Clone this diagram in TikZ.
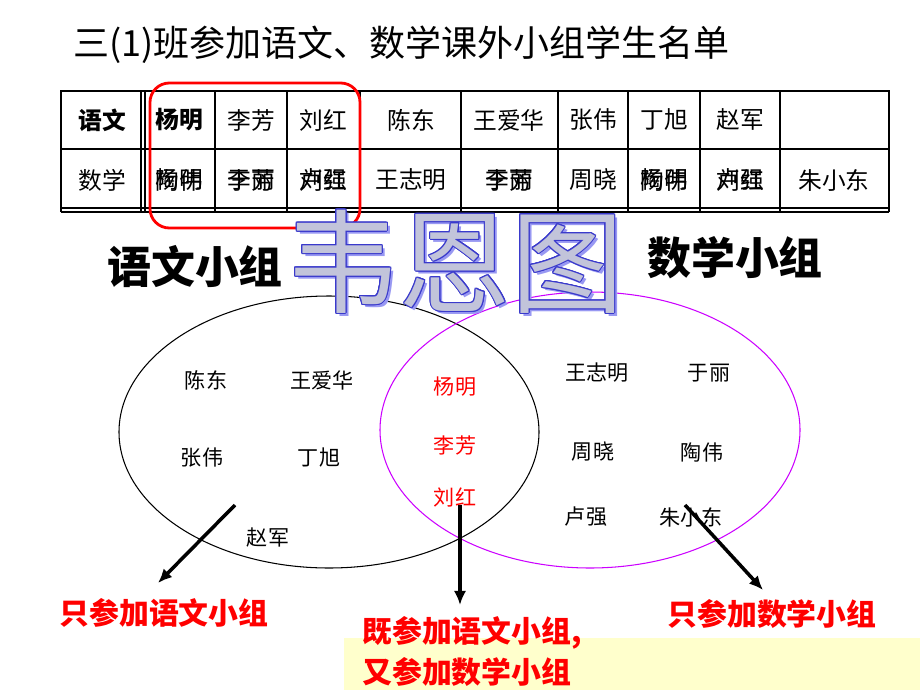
\documentclass[tikz,border=0pt]{standalone}
\usepackage{fontspec}
\setmainfont{Noto Sans CJK SC}
\usepackage{xcolor}
\usepackage{contour}
\usepackage{tikz}
\usetikzlibrary{arrows.meta, positioning}
\definecolor{markred}{HTML}{FF0000}
\definecolor{mathviolet}{HTML}{CC00FF}
\definecolor{notepaper}{HTML}{FFFFCC}
\definecolor{vennfill}{HTML}{C2C4DA}
\definecolor{vennline}{HTML}{3A3ACC}
\definecolor{vennshadow}{HTML}{9898F2}
\contourlength{0.5pt}

\begin{document}
\begin{tikzpicture}[x=0.02cm, y=-0.02cm,
        every node/.style={inner sep=0pt},
        cell/.style={font=\fontsize{13.5}{16}\selectfont},
        headcell/.style={font=\bfseries\fontsize{13.5}{16}\selectfont},
        member/.style={font=\fontsize{12}{14}\selectfont},
        groupname/.style={font=\bfseries\fontsize{25}{30}\selectfont},
        remark/.style={text=markred, font=\bfseries\fontsize{17}{20}\selectfont},
        pointer/.style={line width=2pt, -{Latex[length=8pt, width=7pt]}}]
        \fill[white] (0,0) rectangle (920,690);
        \useasboundingbox (0,0) rectangle (920,690);
        \fill[notepaper] (344,638) rectangle (920,690);

        \node[font=\fontsize{20.5}{24}\selectfont, anchor=west] (title) at (73,45) {三(1)班参加语文、数学课外小组学生名单};

        \draw[line width=1.6pt] (61,212) -- (61,91) -- (889,91) -- (889,212);
        \draw[line width=1.6pt] (61,212) -- (889,212);
        \draw[line width=0.6pt] (61,208) -- (889,208) (61,149) -- (889,149);
        \draw[line width=0.6pt] (141,91) -- (141,212) (145,91) -- (145,212)
                (215,91) -- (215,212) (287,91) -- (287,212) (360,91) -- (360,212)
                (461,91) -- (461,212) (558,91) -- (558,212) (628,91) -- (628,212)
                (700,91) -- (700,212) (780,91) -- (780,212);

        \node[headcell] (0) at (102,120) {语文};
        \node[headcell] (1) at (179,120) {杨明};
        \node[cell] (2) at (251,120) {李芳};
        \node[cell] (3) at (323,120) {刘红};
        \node[cell] (4) at (411,120) {陈东};
        \node[cell] (5) at (509,120) {王爱华};
        \node[cell] (6) at (593,120) {张伟};
        \node[cell] (7) at (664,120) {丁旭};
        \node[cell] (8) at (740,120) {赵军};

        \node[cell] (0b) at (102,180) {数学};
        \node[cell] (1b) at (179,180) {杨明};
        \node[cell] (1c) at (179,180) {陶伟};
        \node[cell] (2b) at (251,180) {李芳};
        \node[cell] (2c) at (251,180) {于丽};
        \node[cell] (3b) at (323,180) {刘红};
        \node[cell] (3c) at (323,180) {卢强};
        \node[cell] (4b) at (411,180) {王志明};
        \node[cell] (5b) at (509,180) {李芳};
        \node[cell] (5c) at (509,180) {于丽};
        \node[cell] (6b) at (593,180) {周晓};
        \node[cell] (7b) at (664,180) {杨明};
        \node[cell] (7c) at (664,180) {陶伟};
        \node[cell] (8b) at (740,180) {刘红};
        \node[cell] (8c) at (740,180) {卢强};
        \node[cell] (9b) at (834,180) {朱小东};

        \draw[markred, line width=1.6pt, rounded corners=11pt] (150,83) rectangle (360,228);

        \node[groupname] (yw) at (195,266) {语文小组};
        \node[groupname] (sx) at (735,258) {数学小组};

        \draw[line width=0.6pt] (329,432) ellipse [x radius=210, y radius=136];
        \draw[mathviolet, line width=0.6pt] (590,430) ellipse [x radius=210, y radius=138];

        \node[member] (m0) at (206,380) {陈东};
        \node[member] (m1) at (322,380) {王爱华};
        \node[member] (m2) at (202,458) {张伟};
        \node[member] (m3) at (319,458) {丁旭};
        \node[member] (m4) at (268,538) {赵军};
        \node[member, text=markred] (m5) at (455,387) {杨明};
        \node[member, text=markred] (m6) at (455,445) {李芳};
        \node[member, text=markred] (m7) at (455,497) {刘红};
        \node[member] (m8) at (597,373) {王志明};
        \node[member] (m9) at (709,373) {于丽};
        \node[member] (m10) at (593,452) {周晓};
        \node[member] (m11) at (702,452) {陶伟};
        \node[member] (m12) at (586,517) {卢强};
        \node[member] (m13) at (691,517) {朱小东};

        \coordinate (a0) at (235,505);
        \coordinate (a1) at (158,583);
        \coordinate (b0) at (460,505);
        \coordinate (b1) at (460,605);
        \coordinate (c0) at (685,505);
        \coordinate (c1) at (763,590);
        \draw[pointer] (a0) -- (a1);
        \draw[pointer] (b0) -- (b1);
        \draw[pointer] (c0) -- (c1);

        \node[remark] (r0) at (164,613) {只参加语文小组};
        \node[remark, anchor=west] (r1) at (362,633) {既参加语文小组,};
        \node[remark, below=0.14cm of r1.south west, anchor=north west] (r1b) {又参加数学小组};
        \node[remark] (r2) at (772,614) {只参加数学小组};

        \node[text=vennshadow, font=\fontsize{64}{70}\selectfont] (venn0) at (458,265) {韦恩图};
        \node[text=vennfill, font=\fontsize{64}{70}\selectfont] (venn) at (455,262) {\contour{vennline}{韦恩图}};
    \end{tikzpicture}
\end{document}
